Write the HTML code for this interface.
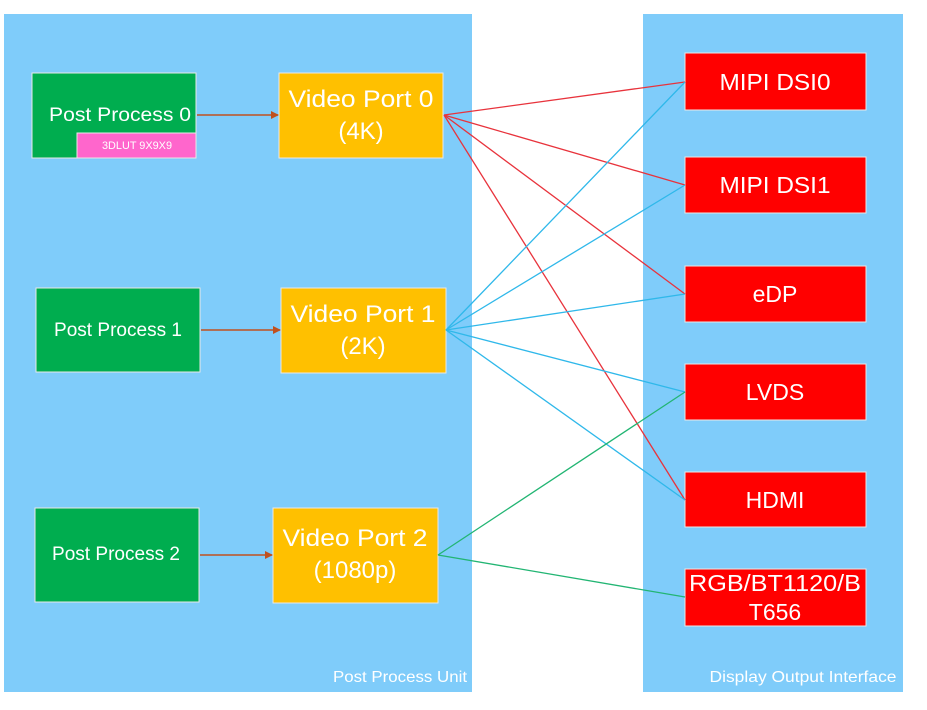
<!DOCTYPE html>
<html><head><meta charset="utf-8"><style>
html,body{margin:0;padding:0;background:#fff;}
svg{display:block;font-family:"Liberation Sans",sans-serif;}
</style></head><body>
<svg width="927" height="710" viewBox="0 0 927 710" xmlns="http://www.w3.org/2000/svg">
<defs><marker id="a" markerWidth="8" markerHeight="8" refX="7" refY="4" orient="auto" markerUnits="userSpaceOnUse"><path d="M0,0 L8,4 L0,8 z" fill="#c0501e"/></marker></defs>
<rect x="4" y="14" width="468" height="678" fill="#7fccfa"/>
<rect x="643" y="14" width="260" height="678" fill="#7fccfa"/>
<g stroke="#e8e8e8" stroke-width="1">
<rect x="32" y="73" width="164" height="85" fill="#00ad4f"/>
<rect x="77" y="133" width="119" height="25" fill="#ff66cc"/>
<rect x="279" y="73" width="164" height="85" fill="#ffc000"/>
<rect x="36" y="288" width="164" height="84" fill="#00ad4f"/>
<rect x="281" y="288" width="165" height="85" fill="#ffc000"/>
<rect x="35" y="508" width="164" height="94" fill="#00ad4f"/>
<rect x="273" y="508" width="165" height="95" fill="#ffc000"/>
<g fill="#ff0000">
<rect x="685" y="53" width="181" height="57"/>
<rect x="685" y="157" width="181" height="56"/>
<rect x="685" y="266" width="181" height="56"/>
<rect x="685" y="364" width="181" height="56"/>
<rect x="685" y="472" width="181" height="55"/>
<rect x="685" y="569" width="181" height="57"/>
</g></g>
<g stroke="#c0501e" stroke-width="1.5" marker-end="url(#a)">
<line x1="197" y1="115" x2="278" y2="115"/>
<line x1="201" y1="330" x2="280" y2="330"/>
<line x1="200" y1="555" x2="272" y2="555"/>
</g>
<g stroke="#e8333c" stroke-width="1.3" fill="none">
<line x1="444" y1="115" x2="685" y2="82"/>
<line x1="444" y1="115" x2="685" y2="185"/>
<line x1="444" y1="115" x2="685" y2="294"/>
<line x1="444" y1="115" x2="685" y2="500"/>
</g>
<g stroke="#2fb8ea" stroke-width="1.3">
<line x1="446" y1="330" x2="685" y2="82"/>
<line x1="446" y1="330" x2="685" y2="185"/>
<line x1="446" y1="330" x2="685" y2="294"/>
<line x1="446" y1="330" x2="685" y2="392"/>
<line x1="446" y1="330" x2="685" y2="500"/>
</g>
<g stroke="#22b573" stroke-width="1.3">
<line x1="438" y1="555" x2="685" y2="392"/>
<line x1="438" y1="555" x2="685" y2="597"/>
</g>
<g fill="#fff" text-anchor="middle">
<text x="120" y="121" font-size="19" textLength="142" lengthAdjust="spacingAndGlyphs">Post Process 0</text>
<text x="137" y="149" font-size="11" textLength="70" lengthAdjust="spacingAndGlyphs">3DLUT 9X9X9</text>
<text x="361" y="107" font-size="24" textLength="145" lengthAdjust="spacingAndGlyphs">Video Port 0</text>
<text x="361" y="139" font-size="24">(4K)</text>
<text x="118" y="336" font-size="19" textLength="128" lengthAdjust="spacingAndGlyphs">Post Process 1</text>
<text x="363" y="322" font-size="24" textLength="145" lengthAdjust="spacingAndGlyphs">Video Port 1</text>
<text x="363" y="354" font-size="24">(2K)</text>
<text x="116" y="560" font-size="19" textLength="128" lengthAdjust="spacingAndGlyphs">Post Process 2</text>
<text x="355" y="546" font-size="24" textLength="145" lengthAdjust="spacingAndGlyphs">Video Port 2</text>
<text x="355" y="578" font-size="24">(1080p)</text>
<text x="775" y="90" font-size="23" textLength="111" lengthAdjust="spacingAndGlyphs">MIPI DSI0</text>
<text x="775" y="193" font-size="23" textLength="111" lengthAdjust="spacingAndGlyphs">MIPI DSI1</text>
<text x="775" y="302" font-size="23">eDP</text>
<text x="775" y="400" font-size="23">LVDS</text>
<text x="775" y="508" font-size="23">HDMI</text>
<text x="775" y="591" font-size="23" textLength="172" lengthAdjust="spacingAndGlyphs">RGB/BT1120/B</text>
<text x="775" y="620" font-size="23">T656</text>
<text x="400" y="682" font-size="16" textLength="134" lengthAdjust="spacingAndGlyphs">Post Process Unit</text>
<text x="803" y="682" font-size="16" textLength="187" lengthAdjust="spacingAndGlyphs">Display Output Interface</text>
</g>
</svg>
</body></html>
